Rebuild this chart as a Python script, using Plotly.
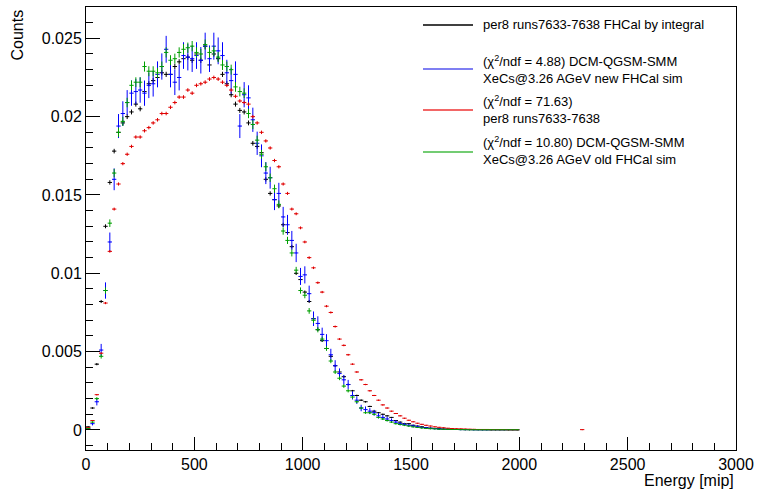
import numpy as np
import plotly.graph_objects as go

# Histogram bin centres [mip], 20 mip bins
energy = list(range(10, 2000, 20))

# per8 runs7633-7638 FHCal by integral
black_counts = [
    0.0002, 0.0014, 0.0042, 0.0082, 0.0130, 0.0158, 0.0178, 0.0190, 0.0196, 0.0200,
    0.0203, 0.0208, 0.0205, 0.0216, 0.0221, 0.0223, 0.0225, 0.0228, 0.0227, 0.0227,
    0.0232, 0.0235, 0.0237, 0.0238, 0.0236, 0.0240, 0.0236, 0.0245, 0.0233, 0.0240,
    0.0237, 0.0227, 0.0221, 0.0214, 0.0208, 0.0204, 0.0203, 0.0196, 0.0183, 0.0181,
    0.0177, 0.0160, 0.0151, 0.0147, 0.0143, 0.0131, 0.0126, 0.0117, 0.0100, 0.0096,
    0.0088, 0.0082, 0.0071, 0.0064, 0.0057, 0.0052, 0.0047, 0.0041, 0.0037, 0.0034,
    0.0029, 0.0025, 0.0022, 0.0019, 0.0018, 0.0015, 0.0012, 0.0011, 0.0010, 0.0009,
    0.0008, 0.0006, 0.0005, 0.0004, 0.0004, 0.0003, 0.00025, 0.0002, 0.00015, 0.00012,
    0.0001, 0.00008, 0.00006, 0.00005, 0.00004, 0.00003, 0.00003, 0.00002, 0.00002, 0.00002,
    0.000015, 0.00001, 0.00001, 0.00001, 0.00001, 0.00001, 0.00001, 0.00001, 0.00001, 0.00001,
]

# DCM-QGSM-SMM new FHCal sim
blue_counts = [
    0.0001, 0.0004, 0.0018, 0.0051, 0.0089, 0.0120, 0.0160, 0.0194, 0.0202, 0.0209,
    0.0215, 0.0216, 0.0217, 0.0215, 0.0220, 0.0221, 0.0227, 0.0232, 0.0243, 0.0227,
    0.0222, 0.0225, 0.0239, 0.0238, 0.0237, 0.0239, 0.0236, 0.0245, 0.0237, 0.0245,
    0.0242, 0.0239, 0.0228, 0.0223, 0.0227, 0.0194, 0.0214, 0.0212, 0.0198, 0.0183,
    0.0175, 0.0164, 0.0161, 0.0147, 0.0151, 0.0136, 0.0131, 0.0121, 0.0113, 0.0098,
    0.0099, 0.0087, 0.0071, 0.0068, 0.0061, 0.0057, 0.0048, 0.0041, 0.0036, 0.0032,
    0.0029, 0.0022, 0.0019, 0.0014, 0.0013, 0.0012, 0.0011, 0.0009, 0.0008, 0.0007,
    0.0006, 0.0005, 0.0004, 0.00035, 0.0003, 0.00025, 0.0002, 0.00016, 0.00013, 0.0001,
    0.00008, 0.00006, 0.00005, 0.00004, 0.00003, 0.00003, 0.00002, 0.00002, 0.00002, 0.00001,
    0.00001, 0.00001, 0.00001, 0.00001, 0.00001, 0.00001, 0.00001, 0.00001, 0.00001, 0.00001,
]

# per8 runs7633-7638 (red)
red_counts = [
    0.00015, 0.0006, 0.00225, 0.0049, 0.0081, 0.0114, 0.0141, 0.0157, 0.0170, 0.0176,
    0.0181, 0.0187, 0.0187, 0.0191, 0.0193, 0.0196, 0.0198, 0.0202, 0.0202, 0.0206,
    0.0209, 0.02125, 0.02125, 0.0217, 0.0215, 0.0220, 0.0221, 0.0222, 0.0224, 0.0225,
    0.0224, 0.0222, 0.0220, 0.0217, 0.0213, 0.0210, 0.0209, 0.0208, 0.0200, 0.0196,
    0.0190, 0.01845, 0.0180, 0.0172, 0.0168, 0.0157, 0.0151, 0.0141, 0.0138, 0.0129,
    0.0120, 0.0110, 0.01035, 0.0094, 0.0088, 0.0079, 0.0075, 0.0066, 0.0058, 0.0054,
    0.0048, 0.0042, 0.0037, 0.0032, 0.0029, 0.0025, 0.0022, 0.0019, 0.0016, 0.0014,
    0.0012, 0.00105, 0.0009, 0.00075, 0.00062, 0.00052, 0.00043, 0.00036, 0.0003, 0.00025,
    0.0002, 0.00017, 0.00014, 0.00011, 0.00009, 0.00008, 0.00007, 0.00006, 0.00005, 0.00004,
    0.00003, 0.00003, 0.00003, 0.00002, 0.00002, 0.00002, 0.00002, 0.00001, 0.00001, 0.00001,
]
red_extra_energy = [2290]
red_extra_counts = [0.00002]

# DCM-QGSM-SMM old FHCal sim
green_counts = [
    0.0001, 0.0005, 0.0020, 0.0047, 0.0089, 0.0132, 0.0164, 0.0190, 0.0197, 0.0209,
    0.0220, 0.0222, 0.0222, 0.0232, 0.0229, 0.0229, 0.0228, 0.0232, 0.0241, 0.0236,
    0.0237, 0.0241, 0.0243, 0.0244, 0.0245, 0.0241, 0.0240, 0.0246, 0.0241, 0.0242,
    0.0238, 0.0233, 0.0232, 0.0230, 0.0219, 0.0216, 0.0215, 0.0202, 0.0195, 0.0185,
    0.0176, 0.0168, 0.0161, 0.0154, 0.0144, 0.0127, 0.0121, 0.0113, 0.0102, 0.0089,
    0.0086, 0.0076, 0.0070, 0.0064, 0.0058, 0.0052, 0.0044, 0.0037, 0.0033, 0.0028,
    0.0025, 0.0021, 0.0018, 0.0014, 0.0011, 0.0011, 0.0010, 0.0008, 0.0007, 0.0006,
    0.0005, 0.0004, 0.00035, 0.0003, 0.00025, 0.0002, 0.00016, 0.00013, 0.0001, 0.00008,
    0.00007, 0.00005, 0.00004, 0.00004, 0.00003, 0.00003, 0.00002, 0.00002, 0.00001, 0.00001,
    0.00001, 0.00001, 0.00001, 0.00001, 0.00001, 0.00001, 0.00001, 0.00001, 0.00001, 0.00001,
]

FONT = "Liberation Sans, Arial, Helvetica, sans-serif"

# plot frame in pixels (for placing the hand-drawn legend)
L, R, T, B = 86, 736, 7, 450


def px(x):
    return (x - L) / (R - L)


def py(y):
    return (B - y) / (B - T)


def hist_trace(x, y, color, k):
    # poisson-like errors, scaled as the normalised histogram
    y = np.array(y)
    return go.Scatter(
        x=x, y=y, mode="markers",
        marker=dict(size=1, color=color),
        error_y=dict(type="data", array=k * np.sqrt(y), color=color, thickness=1, width=0),
        error_x=dict(type="constant", value=10, color=color, thickness=1, width=0),
        showlegend=False, hoverinfo="x+y",
    )


fig = go.Figure()
fig.add_trace(hist_trace(energy, black_counts, "#000000", 0.0011))
fig.add_trace(hist_trace(energy, blue_counts, "#0000ff", 0.0055))
fig.add_trace(hist_trace(energy, red_counts, "#e00000", 0.0008))
fig.add_trace(hist_trace(red_extra_energy, red_extra_counts, "#e00000", 0.0008))
fig.add_trace(hist_trace(energy, green_counts, "#00a000", 0.0021))

axis_common = dict(
    showgrid=False, zeroline=False, showline=True, linecolor="black", linewidth=1,
    mirror=True, ticks="inside", tickcolor="black", tickwidth=1,
    tickfont=dict(family=FONT, size=16, color="black"),
)
fig.update_xaxes(range=[0, 3000], dtick=500, ticklen=13,
                 minor=dict(dtick=100, ticks="inside", ticklen=7, tickcolor="black"),
                 **axis_common)
fig.update_yaxes(range=[-0.00128, 0.0270], dtick=0.005, ticklen=14,
                 minor=dict(dtick=0.001, ticks="inside", ticklen=7, tickcolor="black"),
                 **axis_common)

# legend drawn by hand (ROOT TLegend look)
legend_rows = [
    ("#000000", 25, 25, "per8 runs7633-7638 FHCal by integral"),
    ("#5555ee", 69, 69.5, "(χ<sup>2</sup>/ndf = 4.88) DCM-QGSM-SMM<br>XeCs@3.26 AGeV new FHCal sim"),
    ("#ee3333", 110, 109.5, "(χ<sup>2</sup>/ndf = 71.63)<br>per8 runs7633-7638"),
    ("#44bb44", 152, 150.5, "(χ<sup>2</sup>/ndf = 10.80) DCM-QGSM-SMM<br>XeCs@3.26 AGeV old FHCal sim"),
]
shapes = []
annotations = []
for color, line_y, text_y, label in legend_rows:
    shapes.append(dict(type="line", xref="paper", yref="paper",
                       x0=px(423), x1=px(473), y0=py(line_y), y1=py(line_y),
                       line=dict(color=color, width=1.5)))
    annotations.append(dict(xref="paper", yref="paper", x=px(481), y=py(text_y),
                            xanchor="left", yanchor="middle", align="left", showarrow=False,
                            text=label, font=dict(family=FONT, size=13, color="black")))

annotations.append(dict(xref="paper", yref="paper", x=px(736), y=py(480),
                        xanchor="right", yanchor="middle", showarrow=False,
                        text="Energy [mip]", font=dict(family=FONT, size=16, color="black")))
annotations.append(dict(xref="paper", yref="paper", x=px(17), y=py(8),
                        xanchor="center", yanchor="top", textangle=-90, showarrow=False,
                        text="Counts", font=dict(family=FONT, size=16, color="black")))

fig.update_layout(
    width=761, height=490,
    margin=dict(l=L, r=761 - R, t=T, b=490 - B),
    plot_bgcolor="white", paper_bgcolor="white",
    shapes=shapes, annotations=annotations,
    showlegend=False,
)

# drop the default page margin so the figure sits at the window origin
fig.write_html("out.html", config={"displayModeBar": False},
               post_script="document.body.style.margin='0';")
